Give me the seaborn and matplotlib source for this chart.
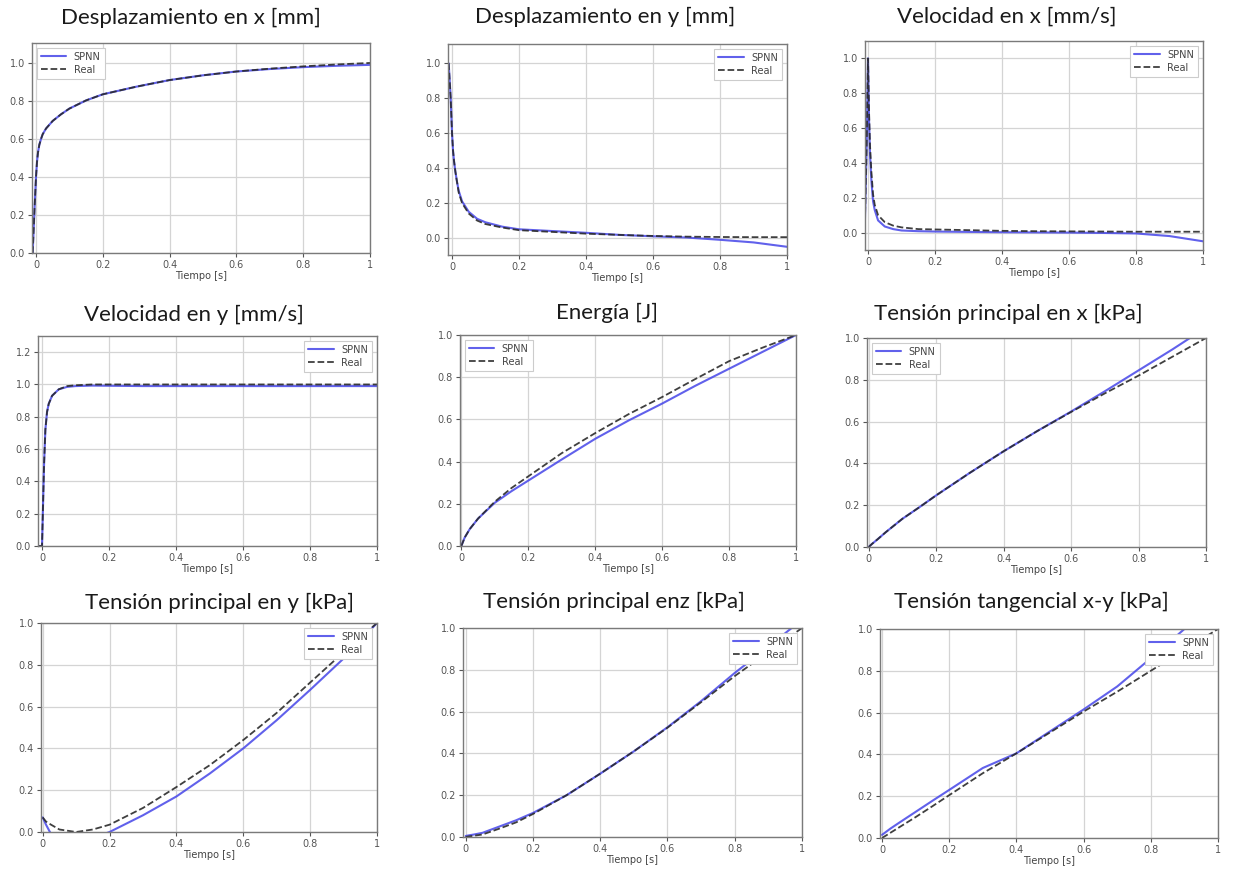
import numpy as np
import pandas as pd
import matplotlib
matplotlib.use("Agg")
import matplotlib.pyplot as plt
import seaborn as sns

# ---------------- data ----------------
titles = ["Desplazamiento en x [mm]", "Desplazamiento en y [mm]", "Velocidad en x [mm/s]",
          "Velocidad en y [mm/s]", "Energía [J]", "Tensión principal en x [kPa]",
          "Tensión principal en y [kPa]", "Tensión principal enz [kPa]", "Tensión tangencial x-y [kPa]"]

t_fast = [-0.01, -0.004, 0.0, 0.003, 0.006, 0.01, 0.015, 0.02, 0.03, 0.05, 0.075, 0.1,
          0.15, 0.2, 0.3, 0.4, 0.5, 0.6, 0.7, 0.8, 0.9, 1.0]
t_slow = [0.0, 0.01, 0.025, 0.05, 0.1, 0.15, 0.2, 0.3, 0.4, 0.5, 0.6, 0.7, 0.8, 0.9, 1.0]

dx_real = [0.0, 0.25, 0.4, 0.48, 0.53, 0.57, 0.6, 0.625, 0.655, 0.695, 0.73, 0.76,
           0.803, 0.835, 0.875, 0.91, 0.935, 0.955, 0.97, 0.982, 0.992, 1.0]
dx_spnn = [0.0, 0.25, 0.4, 0.48, 0.53, 0.57, 0.6, 0.625, 0.655, 0.695, 0.73, 0.76,
           0.803, 0.835, 0.875, 0.91, 0.935, 0.955, 0.968, 0.978, 0.985, 0.99]

dy_real = [1.0, 0.8, 0.6, 0.5, 0.44, 0.38, 0.32, 0.26, 0.2, 0.14, 0.1, 0.08,
           0.06, 0.045, 0.035, 0.025, 0.018, 0.012, 0.008, 0.006, 0.005, 0.005]
dy_spnn = [1.0, 0.8, 0.6, 0.5, 0.44, 0.38, 0.32, 0.27, 0.21, 0.15, 0.11, 0.09,
           0.065, 0.05, 0.04, 0.03, 0.018, 0.01, 0.003, -0.01, -0.025, -0.05]

vx_real = [0.0, 0.5, 1.0, 0.7, 0.5, 0.35, 0.22, 0.16, 0.1, 0.06, 0.04, 0.03,
           0.02, 0.018, 0.014, 0.01, 0.008, 0.007, 0.006, 0.005, 0.005, 0.005]
vx_spnn = [0.0, 0.5, 1.0, 0.65, 0.45, 0.3, 0.18, 0.13, 0.07, 0.035, 0.02, 0.012,
           0.008, 0.006, 0.004, 0.002, 0.001, 0.0, -0.002, -0.005, -0.02, -0.05]

vy_real = [0.0, 0.0, 0.0, 0.25, 0.5, 0.72, 0.83, 0.88, 0.93, 0.97, 0.99, 0.995,
           1.0, 1.0, 1.0, 1.0, 1.0, 1.0, 1.0, 1.0, 1.0, 1.0]
vy_spnn = [0.0, 0.0, 0.0, 0.25, 0.5, 0.72, 0.83, 0.88, 0.93, 0.97, 0.985, 0.99,
           0.993, 0.992, 0.99, 0.99, 0.99, 0.99, 0.99, 0.99, 0.99, 0.99]

en_real = [0.0, 0.04, 0.08, 0.13, 0.21, 0.275, 0.33, 0.44, 0.535, 0.625, 0.706, 0.792, 0.876, 0.94, 1.0]
en_spnn = [0.0, 0.04, 0.08, 0.13, 0.205, 0.26, 0.31, 0.41, 0.508, 0.595, 0.675, 0.76, 0.84, 0.92, 1.0]

sx_real = [0.0, 0.015, 0.035, 0.07, 0.135, 0.19, 0.247, 0.355, 0.458, 0.555, 0.646, 0.735, 0.82, 0.91, 1.0]
sx_spnn = [0.0, 0.015, 0.035, 0.07, 0.135, 0.19, 0.247, 0.355, 0.458, 0.555, 0.648, 0.745, 0.845, 0.945, 1.05]

sy_real = [0.07, 0.05, 0.035, 0.012, 0.0, 0.012, 0.035, 0.115, 0.215, 0.32, 0.44, 0.57, 0.715, 0.86, 1.0]
sy_spnn = [0.07, 0.035, -0.01, -0.04, -0.05, -0.03, 0.0, 0.08, 0.17, 0.28, 0.4, 0.535, 0.68, 0.83, 1.0]

sz_real = [0.0, 0.003, 0.006, 0.012, 0.04, 0.07, 0.11, 0.2, 0.303, 0.41, 0.523, 0.645, 0.77, 0.885, 1.0]
sz_spnn = [0.005, 0.008, 0.012, 0.02, 0.05, 0.08, 0.115, 0.2, 0.303, 0.41, 0.525, 0.65, 0.785, 0.91, 1.04]

txy_real = [0.0, 0.01, 0.025, 0.05, 0.1, 0.152, 0.205, 0.31, 0.405, 0.505, 0.605, 0.7, 0.8, 0.9, 1.0]
txy_spnn = [0.015, 0.027, 0.045, 0.072, 0.125, 0.178, 0.23, 0.335, 0.405, 0.51, 0.615, 0.725, 0.86, 1.0, 1.13]

series = [(t_fast, dx_spnn, dx_real), (t_fast, dy_spnn, dy_real), (t_fast, vx_spnn, vx_real),
          (t_fast, vy_spnn, vy_real), (t_slow, en_spnn, en_real), (t_slow, sx_spnn, sx_real),
          (t_slow, sy_spnn, sy_real), (t_slow, sz_spnn, sz_real), (t_slow, txy_spnn, txy_real)]

xtick_vals = [0, 0.2, 0.4, 0.6, 0.8, 1.0]
xtick_labels = ["0", "0.2", "0.4", "0.6", "0.8", "1"]

# ---------------- layout (pixels) ----------------
W, H = 1235, 872
boxes = [(32, 370, 43, 253), (448, 787, 44, 255), (865, 1203, 41, 250),
         (38, 377, 336, 546), (460, 796, 335, 546), (867, 1206, 338, 547),
         (41, 377, 623, 832), (463, 802, 628, 837), (880, 1218, 629, 838)]
title_pos = [(191, 18), (605, 17), (1007, 17), (194, 315), (607, 313), (1008, 314),
             (220, 603), (614, 602), (1031, 602)]
ylims = [(0, 1.105), (-0.097, 1.11), (-0.1, 1.1), (0, 1.3), (0, 1), (0, 1), (0, 1), (0, 1), (0, 1)]
xlims = [(-0.012, 1.0), (-0.012, 1.0), (-0.009, 1.0), (-0.012, 1.0), (-0.004, 1.0),
         (-0.005, 1.0), (-0.005, 1.0), (-0.008, 1.0), (-0.006, 1.0)]
legend_loc = ["upper left", "upper right", "upper right", "upper right", "upper left",
              "upper left", "upper right", "upper right", "upper right"]

sns.set_style("white")
plt.rcParams['font.family'] = ['DejaVu Sans']

fig = plt.figure(figsize=(W / 100, H / 100), dpi=100)
fig.patch.set_facecolor("white")

for i in range(9):
    l, r, tp, b = boxes[i]
    ax = fig.add_axes([l / W, 1 - b / H, (r - l) / W, (b - tp) / H])
    tt, sp, re = series[i]
    df = pd.DataFrame({"t": tt, "SPNN": sp, "Real": re})
    sns.lineplot(data=df, x="t", y="SPNN", ax=ax, color="#4545e8", lw=1.5, alpha=0.85,
                 label="SPNN", sort=False)
    sns.lineplot(data=df, x="t", y="Real", ax=ax, color="#2a2a2a", lw=1.3, alpha=0.9,
                 linestyle="--", label="Real", sort=False)
    ax.set_xlim(*xlims[i])
    ax.set_ylim(*ylims[i])
    ax.set_xticks(xtick_vals)
    ax.set_xticklabels(xtick_labels)
    if i == 3:
        ax.set_yticks([0, 0.2, 0.4, 0.6, 0.8, 1.0, 1.2])
    else:
        ax.set_yticks([0, 0.2, 0.4, 0.6, 0.8, 1.0])
    ax.yaxis.set_major_formatter(matplotlib.ticker.FormatStrFormatter("%.1f"))
    ax.grid(True, color="#d4d4d4", lw=0.9)
    ax.set_axisbelow(True)
    for s in ax.spines.values():
        s.set_color("#7a7a7a")
        s.set_linewidth(1.0)
    ax.tick_params(axis="both", labelsize=7, colors="#555555", length=3, width=0.8, pad=2,
                   bottom=True, left=True)
    ax.set_xlabel("Tiempo [s]", fontsize=7, color="#444444", labelpad=1)
    ax.set_ylabel("")
    leg = ax.legend(loc=legend_loc[i], fontsize=7, frameon=True, handlelength=2.6,
                    borderpad=0.4, labelspacing=0.3, fancybox=False, framealpha=1)
    leg.get_frame().set_edgecolor("#cccccc")
    leg.get_frame().set_linewidth(0.8)
    for txt in leg.get_texts():
        txt.set_color("#444444")
    x0, y0 = title_pos[i]
    fig.text(x0 / W, 1 - y0 / H, titles[i], ha="center", va="center", fontsize=16,
             family=["Lato", "DejaVu Sans"], color="#1a1a1a")

fig.savefig("out.png", dpi=100, facecolor="white")
